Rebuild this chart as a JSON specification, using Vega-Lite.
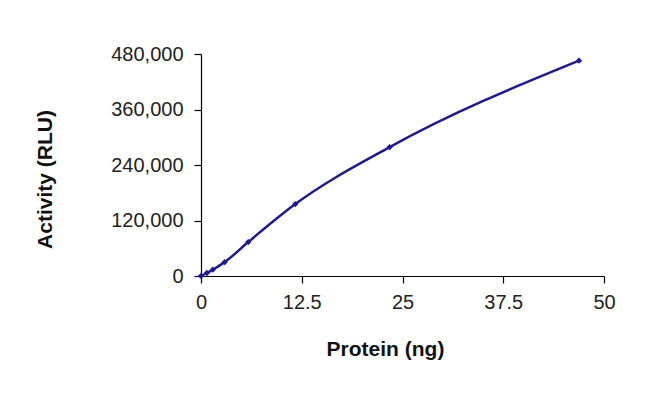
{
  "$schema": "https://vega.github.io/schema/vega-lite/v6.json",
  "width": 403,
  "height": 222,
  "autosize": {"type": "none"},
  "padding": {"left": 201, "top": 54, "right": 46, "bottom": 133},
  "background": "white",
  "config": {
    "view": {"stroke": null},
    "axis": {
      "font": "Liberation Sans",
      "labelFont": "Liberation Sans",
      "titleFont": "Liberation Sans",
      "labelFontSize": 20,
      "labelColor": "#222222",
      "labelFlush": false,
      "titleFontSize": 21,
      "titleFontWeight": "bold",
      "titleColor": "#111111",
      "domainColor": "#000000",
      "tickColor": "#000000",
      "domainWidth": 1.2,
      "tickWidth": 1.2,
      "tickSize": 7,
      "grid": false
    }
  },
  "data": {
    "values": [
      {"protein": 0, "activity": 0},
      {"protein": 0.73, "activity": 6500},
      {"protein": 1.46, "activity": 13600},
      {"protein": 2.93, "activity": 30000},
      {"protein": 5.86, "activity": 73400},
      {"protein": 11.7, "activity": 155500},
      {"protein": 23.4, "activity": 278600},
      {"protein": 46.9, "activity": 465600}
    ]
  },
  "encoding": {
    "x": {
      "field": "protein",
      "type": "quantitative",
      "scale": {"domain": [0, 50], "nice": false, "zero": true},
      "axis": {
        "title": "Protein (ng)",
        "values": [0, 12.5, 25, 37.5, 50],
        "format": ".1~f",
        "labelPadding": 9,
        "titleX": 184,
        "titleY": 62,
        "titleAnchor": "middle"
      }
    },
    "y": {
      "field": "activity",
      "type": "quantitative",
      "scale": {"domain": [0, 480000], "nice": false},
      "axis": {
        "title": "Activity (RLU)",
        "values": [0, 120000, 240000, 360000, 480000],
        "format": ",.0f",
        "labelPadding": 11,
        "titleX": -146,
        "titleY": 125,
        "titleAnchor": "middle"
      }
    }
  },
  "layer": [
    {
      "mark": {"type": "line", "interpolate": "monotone", "color": "#1c1c8c", "strokeWidth": 2.5}
    },
    {
      "mark": {"type": "point", "shape": "diamond", "filled": true, "size": 40, "color": "#1c1c8c", "opacity": 1}
    }
  ]
}
